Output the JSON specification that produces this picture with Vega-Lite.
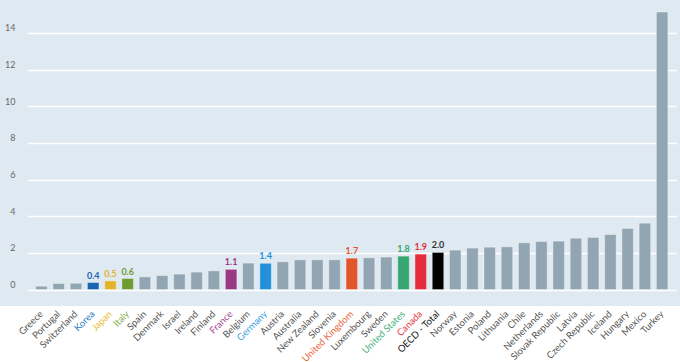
{
  "$schema": "https://vega.github.io/schema/vega-lite/v6.json",
  "width": 680,
  "height": 306,
  "padding": 0,
  "autosize": {"type": "pad"},
  "background": "white",
  "config": {
    "view": {"fill": "#dfe9f1", "stroke": null},
    "font": "Lato"
  },
  "data": {
    "values": [
      {"country": "Greece", "value": 0.18, "group": "Other"},
      {"country": "Portugal", "value": 0.33, "group": "Other"},
      {"country": "Switzerland", "value": 0.34, "group": "Other"},
      {"country": "Korea", "value": 0.38, "group": "Korea"},
      {"country": "Japan", "value": 0.47, "group": "Japan"},
      {"country": "Italy", "value": 0.6, "group": "Italy"},
      {"country": "Spain", "value": 0.69, "group": "Other"},
      {"country": "Denmark", "value": 0.76, "group": "Other"},
      {"country": "Israel", "value": 0.84, "group": "Other"},
      {"country": "Ireland", "value": 0.95, "group": "Other"},
      {"country": "Finland", "value": 1.02, "group": "Other"},
      {"country": "France", "value": 1.1, "group": "France"},
      {"country": "Belgium", "value": 1.44, "group": "Other"},
      {"country": "Germany", "value": 1.43, "group": "Germany"},
      {"country": "Austria", "value": 1.51, "group": "Other"},
      {"country": "Australia", "value": 1.62, "group": "Other"},
      {"country": "New Zealand", "value": 1.62, "group": "Other"},
      {"country": "Slovenia", "value": 1.62, "group": "Other"},
      {"country": "United Kingdom", "value": 1.71, "group": "United Kingdom"},
      {"country": "Luxembourg", "value": 1.73, "group": "Other"},
      {"country": "Sweden", "value": 1.77, "group": "Other"},
      {"country": "United States", "value": 1.82, "group": "United States"},
      {"country": "Canada", "value": 1.93, "group": "Canada"},
      {"country": "OECD - Total", "value": 2.02, "group": "OECD - Total"},
      {"country": "Norway", "value": 2.15, "group": "Other"},
      {"country": "Estonia", "value": 2.26, "group": "Other"},
      {"country": "Poland", "value": 2.31, "group": "Other"},
      {"country": "Lithuania", "value": 2.33, "group": "Other"},
      {"country": "Chile", "value": 2.55, "group": "Other"},
      {"country": "Netherlands", "value": 2.62, "group": "Other"},
      {"country": "Slovak Republic", "value": 2.64, "group": "Other"},
      {"country": "Latvia", "value": 2.8, "group": "Other"},
      {"country": "Czech Republic", "value": 2.84, "group": "Other"},
      {"country": "Iceland", "value": 3.0, "group": "Other"},
      {"country": "Hungary", "value": 3.33, "group": "Other"},
      {"country": "Mexico", "value": 3.62, "group": "Other"},
      {"country": "Turkey", "value": 15.14, "group": "Other"}
    ]
  },
  "encoding": {
    "x": {
      "field": "country",
      "type": "nominal",
      "sort": null,
      "scale": {"paddingInner": 0.333, "paddingOuter": 0.5, "range": [27.1, 676.5]},
      "axis": {
        "title": null,
        "domain": false,
        "ticks": false,
        "labelAngle": -45,
        "labelAlign": "right",
        "labelBaseline": "middle",
        "labelPadding": 6,
        "labelFontSize": 9.5,
        "labelFont": "Lato",
        "labelColor": {
          "condition": [
            {"test": "datum.value === 'Korea'", "value": "#2f7cc4"},
            {"test": "datum.value === 'Japan'", "value": "#ecbc38"},
            {"test": "datum.value === 'Italy'", "value": "#7fab45"},
            {"test": "datum.value === 'France'", "value": "#a64895"},
            {"test": "datum.value === 'Germany'", "value": "#3a9fe0"},
            {"test": "datum.value === 'United Kingdom'", "value": "#e6643a"},
            {"test": "datum.value === 'United States'", "value": "#48b080"},
            {"test": "datum.value === 'Canada'", "value": "#e63a46"},
            {"test": "datum.value === 'OECD - Total'", "value": "#111111"}
          ],
          "value": "#555555"
        }
      }
    },
    "y": {
      "field": "value",
      "type": "quantitative",
      "scale": {"domain": [-0.9, 15.8], "nice": false, "zero": false},
      "axis": {
        "title": null,
        "domain": false,
        "ticks": false,
        "tickSize": 0,
        "values": [0, 2, 4, 6, 8, 10, 12, 14],
        "labelAlign": "right",
        "labelBaseline": "alphabetic",
        "labelPadding": -15,
        "labelOffset": -2,
        "labelFontSize": 9,
        "labelColor": "#666666",
        "gridColor": "#ffffff",
        "gridWidth": 1.3,
        "gridOpacity": 1
      }
    }
  },
  "layer": [
    {
      "mark": {"type": "bar", "stroke": "#ffffff", "strokeOpacity": 0.35, "strokeWidth": 1},
      "encoding": {
        "y2": {"datum": 0},
        "color": {
          "field": "group",
          "type": "nominal",
          "legend": null,
          "scale": {
            "domain": ["Korea", "Japan", "Italy", "France", "Germany", "United Kingdom", "United States", "Canada", "OECD - Total", "Other"],
            "range": ["#1a66b0", "#e3b32a", "#6e9c32", "#993a85", "#2391d9", "#e0562a", "#38a673", "#e32d3a", "#000000", "#91a6b2"]
          }
        }
      }
    },
    {
      "transform": [{"filter": "datum.group !== 'Other'"}],
      "mark": {"type": "text", "baseline": "alphabetic", "dy": -4, "fontSize": 9, "fontWeight": "bold"},
      "encoding": {
        "text": {"field": "value", "type": "quantitative", "format": ".1f"},
        "color": {
          "field": "group",
          "type": "nominal",
          "legend": null,
          "scale": {
            "domain": ["Korea", "Japan", "Italy", "France", "Germany", "United Kingdom", "United States", "Canada", "OECD - Total", "Other"],
            "range": ["#1a66b0", "#e3b32a", "#6e9c32", "#993a85", "#2391d9", "#e0562a", "#38a673", "#e32d3a", "#333333", "#91a6b2"]
          }
        }
      }
    }
  ],
  "resolve": {"scale": {"color": "independent"}}
}
